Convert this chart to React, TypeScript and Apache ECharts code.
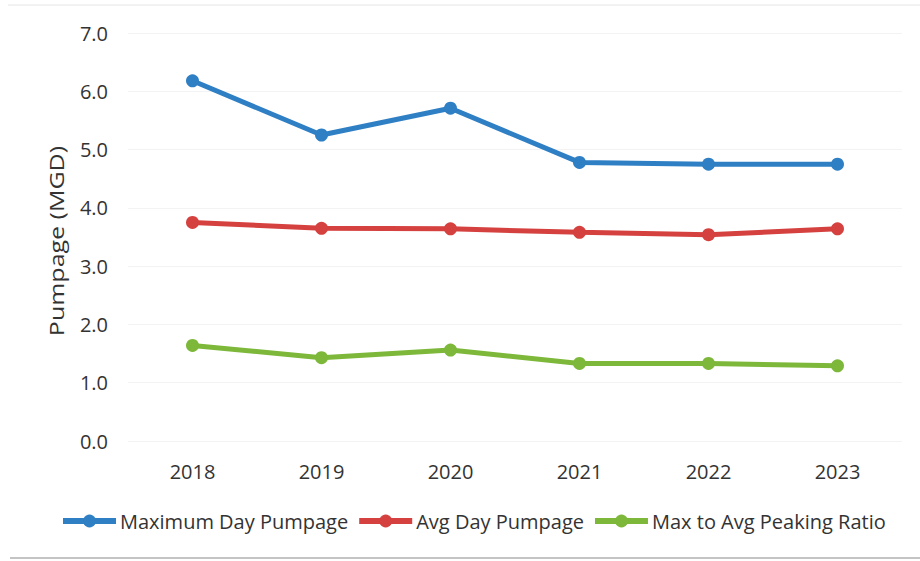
import React, { useEffect, useRef } from "react";
import * as echarts from "echarts";

const years = ["2018", "2019", "2020", "2021", "2022", "2023"];
const maxDayPumpage = [6.18, 5.25, 5.71, 4.78, 4.75, 4.75];
const avgDayPumpage = [3.75, 3.65, 3.64, 3.58, 3.54, 3.64];
const peakingRatio = [1.64, 1.43, 1.56, 1.33, 1.33, 1.29];
const yTicks = { min: 0, max: 7, interval: 1 };
const yAxisTitle = "Pumpage (MGD)";

const seriesDefs = [
  { name: "Maximum Day Pumpage", data: maxDayPumpage, color: "#2F7FC4" },
  { name: "Avg Day Pumpage", data: avgDayPumpage, color: "#D5413F" },
  { name: "Max to Avg Peaking Ratio", data: peakingRatio, color: "#7DB83A" },
];

const FONT = "'Open Sans', sans-serif";
const TEXT = "#333333";

export default function App() {
  const ref = useRef<HTMLDivElement>(null);

  useEffect(() => {
    if (!ref.current) return;
    const chart = echarts.init(ref.current, undefined, { renderer: "svg" });
    chart.setOption({
      animation: false,
      backgroundColor: "#ffffff",
      textStyle: { fontFamily: FONT },
      grid: { left: 128, right: 18, top: 33, bottom: 120 },
      xAxis: {
        type: "category",
        data: years,
        boundaryGap: true,
        axisLine: { show: false },
        axisTick: { show: false },
        axisLabel: { color: TEXT, fontSize: 20, fontFamily: FONT, margin: 20 },
      },
      yAxis: {
        type: "value",
        min: yTicks.min,
        max: yTicks.max,
        interval: yTicks.interval,
        axisLine: { show: false },
        axisTick: { show: false },
        splitLine: { lineStyle: { color: "#f3f3f3", width: 1 } },
        axisLabel: {
          color: TEXT,
          fontSize: 20,
          fontFamily: FONT,
          margin: 20,
          formatter: (v: number) => v.toFixed(1),
        },
      },
      legend: {
        left: 60,
        top: 511,
        padding: 0,
        itemWidth: 53,
        itemHeight: 16,
        itemGap: 8,
        lineStyle: { width: 6 },
        textStyle: { color: TEXT, fontSize: 20, fontFamily: FONT, padding: [0, 0, 0, -1] },
        data: seriesDefs.map((s) => s.name),
      },
      graphic: [
        {
          type: "text",
          x: 56,
          y: 241,
          rotation: Math.PI / 2,
          scaleX: 1.25,
          style: {
            text: yAxisTitle,
            fontSize: 20,
            fontFamily: FONT,
            fill: TEXT,
            align: "center",
            verticalAlign: "middle",
          },
        },
        {
          type: "line",
          shape: { x1: 10, y1: 558, x2: 920, y2: 558 },
          style: { stroke: "#c4c4c4", lineWidth: 2 },
        },
        {
          type: "line",
          shape: { x1: 8, y1: 5, x2: 920, y2: 5 },
          style: { stroke: "#f2f2f2", lineWidth: 2 },
        },
      ],
      series: seriesDefs.map((s) => ({
        name: s.name,
        type: "line",
        data: s.data,
        symbol: "circle",
        symbolSize: 13,
        lineStyle: { color: s.color, width: 5 },
        itemStyle: { color: s.color },
      })),
    });
    return () => chart.dispose();
  }, []);

  return (
    <div
      ref={ref}
      style={{ position: "fixed", left: 0, top: 0, width: 920, height: 561 }}
    />
  );
}
